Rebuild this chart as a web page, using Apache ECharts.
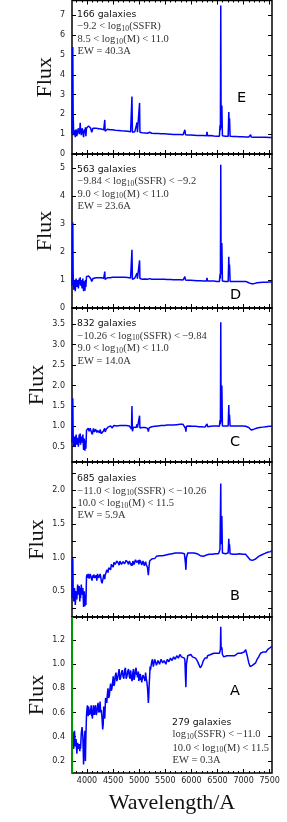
<!DOCTYPE html>
<html><head><meta charset="utf-8">
<script src="https://cdn.jsdelivr.net/npm/echarts@6/dist/echarts.min.js"></script>
<style>html,body{margin:0;padding:0;background:#fff;}#c{width:287px;height:822px;}</style>
</head><body><div id="c"></div>
<script>
// ---- data ----
const wave = [
 3712,3720,3727,3734,3745,3760,3775,3790,3805,3820,
 3835,3850,3862,3869,3876,3890,3905,3920,3934,3948,
 3960,3969,3978,3990,4000,4015,4030,4050,4070,4090,
 4102,4114,4130,4150,4175,4200,4225,4250,4275,4300,
 4320,4333,4340,4347,4365,4390,4415,4440,4465,4490,
 4515,4540,4570,4600,4630,4660,4690,4720,4750,4780,
 4810,4835,4852,4861,4870,4890,4915,4940,4952,4959,
 4966,4985,5000,5007,5014,5035,5060,5085,5110,5135,
 5160,5175,5190,5200,5215,5240,5270,5300,5330,5360,
 5390,5420,5450,5480,5510,5540,5570,5600,5630,5660,
 5690,5720,5750,5780,5810,5840,5866,5876,5886,5895,
 5905,5930,5960,5990,6020,6050,6080,6110,6140,6170,
 6200,6230,6260,6290,6300,6310,6340,6370,6400,6430,
 6460,6490,6520,6538,6548,6556,6563,6570,6584,6595,
 6620,6650,6680,6705,6717,6724,6731,6742,6770,6800,
 6830,6860,6890,6920,6950,6980,7010,7040,7070,7100,
 7126,7136,7146,7170,7200,7230,7260,7290,7310,7325,
 7340,7370,7400,7430,7460,7490,7520,7545
];
const fluxE = [
 1.0,2.5,5.4,2.0,0.95,1.2,0.85,1.25,0.9,1.15,
 1.3,1.0,1.2,1.58,1.2,0.95,1.3,1.1,0.85,1.25,
 1.05,1.35,0.9,1.3,1.38,1.4,1.42,1.38,1.3,1.1,
 1.05,1.3,1.33,1.32,1.3,1.3,1.28,1.27,1.26,1.2,
 1.22,1.15,1.72,1.15,1.24,1.25,1.24,1.23,1.22,1.22,
 1.21,1.2,1.19,1.19,1.18,1.17,1.17,1.16,1.15,1.15,
 1.14,1.12,1.1,2.9,1.1,1.08,1.12,1.1,1.1,1.6,
 1.1,1.09,1.1,2.58,1.1,1.08,1.07,1.07,1.06,1.06,
 1.05,1.02,1.05,1.1,1.05,1.05,1.04,1.04,1.03,1.03,
 1.03,1.02,1.02,1.02,1.01,1.01,1.0,1.0,1.0,0.99,
 0.99,0.99,0.98,0.98,0.98,0.97,0.97,1.22,0.97,0.94,
 0.97,0.96,0.96,0.96,0.95,0.95,0.95,0.94,0.94,0.94,
 0.93,0.93,0.93,0.92,1.12,0.92,0.92,0.93,0.92,0.91,
 0.91,0.9,0.9,0.9,1.45,1.2,7.5,1.3,2.45,0.92,
 0.9,0.9,0.89,0.89,2.12,1.4,1.8,0.89,0.88,0.88,
 0.88,0.88,0.87,0.87,0.87,0.87,0.86,0.86,0.86,0.86,
 0.86,0.97,0.86,0.85,0.85,0.85,0.85,0.85,0.85,0.91,
 0.85,0.84,0.84,0.84,0.84,0.83,0.83,0.83
];
const fluxD = [
 0.8,1.6,3.05,1.2,0.65,1.0,0.6,1.05,0.75,1.0,
 0.7,1.05,0.85,1.1,0.8,1.0,0.7,1.05,0.6,0.95,
 0.62,1.0,0.75,1.12,1.15,1.17,1.14,1.12,1.05,0.95,
 0.9,1.05,1.08,1.07,1.08,1.07,1.08,1.07,1.08,1.05,
 1.06,1.02,1.3,1.02,1.07,1.08,1.09,1.08,1.09,1.1,
 1.09,1.1,1.1,1.1,1.11,1.1,1.1,1.1,1.09,1.09,
 1.08,1.07,1.02,2.08,1.02,1.06,1.07,1.06,1.06,1.25,
 1.05,1.06,1.06,1.7,1.05,1.04,1.03,1.05,1.04,1.04,
 1.03,1.0,1.03,1.05,1.02,1.03,1.03,1.03,1.03,1.03,
 1.03,1.03,1.03,1.03,1.02,1.02,1.02,1.02,1.02,1.01,
 1.01,1.01,1.01,1.01,1.0,1.0,1.0,1.12,1.0,0.97,
 1.0,0.99,0.99,0.99,0.99,0.98,0.98,0.97,0.97,0.97,
 0.96,0.96,0.96,0.96,1.08,0.96,0.96,0.96,0.96,0.96,
 0.96,0.95,0.95,0.95,1.2,1.05,5.12,1.2,2.32,0.96,
 0.95,0.95,0.95,0.95,1.83,1.3,1.55,0.95,0.95,0.95,
 0.95,0.95,0.95,0.95,0.95,0.95,0.95,0.95,0.94,0.9,
 0.88,0.92,0.87,0.87,0.87,0.88,0.9,0.91,0.91,0.93,
 0.91,0.92,0.92,0.92,0.93,0.93,0.93,0.93
];
const fluxC = [
 0.6,1.0,1.69,0.8,0.5,0.75,0.5,0.8,0.55,0.72,
 0.5,0.8,0.6,0.82,0.55,0.75,0.6,0.8,0.42,0.7,
 0.4,0.65,0.45,0.9,0.93,0.92,0.95,0.9,0.93,0.85,
 0.8,0.9,0.93,0.88,0.94,0.9,0.86,0.92,0.82,0.78,
 0.9,0.88,0.95,0.86,0.92,0.95,0.97,0.98,1.0,0.99,
 1.02,0.99,1.01,1.0,1.02,1.0,1.02,1.01,1.02,1.0,
 1.01,1.0,0.93,1.5,0.88,0.98,1.0,0.97,1.0,1.05,
 0.97,0.99,0.96,1.26,0.96,0.98,0.97,0.99,0.97,0.98,
 0.95,0.87,0.96,0.98,0.96,0.99,0.97,1.0,0.98,1.01,
 1.0,1.02,1.01,1.02,1.02,1.03,1.03,1.03,1.04,1.03,
 1.04,1.04,1.04,1.05,1.05,1.05,1.06,1.07,0.95,0.87,
 1.0,1.02,1.01,1.01,1.0,1.01,1.0,0.99,0.99,0.98,
 0.99,0.98,0.98,0.99,1.06,0.99,1.0,1.0,1.0,1.01,
 1.01,1.01,1.01,1.0,1.15,1.05,3.55,1.1,2.0,1.01,
 1.01,1.01,1.01,1.01,1.52,1.15,1.28,1.01,1.01,1.01,
 1.01,1.01,1.01,1.01,1.01,1.01,1.01,1.0,1.0,0.97,
 0.93,0.92,0.91,0.92,0.93,0.95,0.96,0.97,0.97,0.98,
 0.98,0.98,0.99,0.99,0.99,1.0,1.0,1.0
];
const fluxB = [
 0.4,0.7,0.99,0.55,0.35,0.55,0.3,0.5,0.38,0.6,
 0.45,0.58,0.35,0.55,0.4,0.6,0.45,0.55,0.27,0.5,
 0.28,0.45,0.3,0.72,0.75,0.72,0.76,0.7,0.74,0.68,
 0.64,0.72,0.75,0.7,0.74,0.76,0.7,0.76,0.65,0.6,
 0.75,0.72,0.68,0.74,0.78,0.8,0.85,0.84,0.9,0.88,
 0.93,0.9,0.95,0.92,0.95,0.9,0.94,0.91,0.96,0.93,
 0.95,0.93,0.88,0.92,0.88,0.95,0.92,0.96,0.93,0.95,
 0.92,0.96,0.93,0.97,0.92,0.95,0.9,0.96,0.91,0.9,
 0.85,0.74,0.88,0.95,0.93,0.98,1.0,0.99,1.02,1.0,
 1.03,1.01,1.03,1.02,1.04,1.03,1.05,1.04,1.06,1.05,
 1.07,1.06,1.07,1.08,1.07,1.08,1.06,1.04,0.92,0.82,
 1.0,1.07,1.08,1.07,1.09,1.07,1.08,1.06,1.05,1.03,
 1.04,1.02,1.03,1.04,1.05,1.04,1.05,1.06,1.05,1.06,
 1.06,1.07,1.06,1.07,1.12,1.1,2.1,1.2,1.62,1.07,
 1.06,1.06,1.06,1.07,1.28,1.15,1.2,1.06,1.06,1.05,
 1.06,1.05,1.06,1.06,1.05,1.05,1.04,1.05,1.02,1.0,
 0.97,0.97,0.97,0.96,0.97,0.98,1.0,1.02,1.02,1.04,
 1.04,1.06,1.06,1.07,1.08,1.09,1.09,1.11
];
const fluxA = [
 0.28,0.42,0.44,0.35,0.3,0.45,0.32,0.38,0.26,0.35,
 0.3,0.34,0.28,0.33,0.3,0.43,0.48,0.4,0.17,0.35,
 0.45,0.2,0.4,0.58,0.63,0.6,0.65,0.58,0.62,0.57,
 0.55,0.62,0.6,0.64,0.58,0.65,0.6,0.69,0.62,0.46,
 0.65,0.6,0.55,0.63,0.7,0.75,0.72,0.8,0.78,0.85,
 0.82,0.9,0.86,0.92,0.87,0.93,0.9,0.95,0.88,0.94,
 0.9,0.95,0.88,0.86,0.88,0.96,0.9,0.97,0.91,0.93,
 0.89,0.94,0.88,0.92,0.87,0.93,0.88,0.92,0.86,0.88,
 0.8,0.68,0.82,0.9,0.95,1.02,0.98,1.04,0.99,1.03,
 1.0,1.04,1.01,1.03,1.0,1.04,1.02,1.05,1.03,1.06,
 1.04,1.07,1.05,1.08,1.06,1.07,1.05,1.03,0.9,0.81,
 1.0,1.07,1.06,1.08,1.06,1.07,1.05,1.03,1.0,0.97,
 0.99,1.03,1.05,1.06,1.05,1.07,1.06,1.08,1.07,1.09,
 1.08,1.09,1.08,1.09,1.1,1.12,1.31,1.12,1.14,1.08,
 1.06,1.05,1.07,1.06,1.08,1.07,1.08,1.06,1.07,1.08,
 1.07,1.08,1.09,1.08,1.09,1.08,1.1,1.12,1.07,1.01,
 0.98,0.97,0.98,0.99,0.98,1.01,1.04,1.06,1.07,1.09,
 1.08,1.1,1.11,1.1,1.12,1.13,1.14,1.15
];
// extra noisy samples read between the main grid points ([wavelength, flux])
const detailA = [[4008,0.66],[4022,0.57],[4040,0.64],[4060,0.6],[4080,0.66],[4096,0.6],[4108,0.58],[4122,0.66],[4140,0.58],[4162,0.66],[4188,0.6],[4212,0.68],[4238,0.62],[4262,0.6],[4288,0.55],[4310,0.5],[4355,0.72],[4378,0.68],[4402,0.8],[4428,0.74],[4452,0.84],[4478,0.8],[4502,0.9],[4528,0.84],[4555,0.93],[4585,0.88],[4615,0.96],[4645,0.89],[4675,0.95],[4705,0.88],[4735,0.97],[4765,0.9],[4795,0.96],[4822,0.88],[4878,0.93],[4902,0.87],[4928,0.95],[4975,0.92],[4992,0.86],[5022,0.92],[5048,0.85],[5072,0.91],[5098,0.88],[5122,0.93],[5148,0.85],[5168,0.74],[5182,0.72],[5208,0.98],[5228,0.96],[5255,1.04],[5285,0.99],[5315,1.05],[5345,1.0]];
const detailB = [[4008,0.7],[4022,0.76],[4040,0.69],[4060,0.76],[4080,0.7],[4096,0.66],[4108,0.74],[4122,0.7],[4140,0.77],[4162,0.71],[4188,0.66],[4212,0.75],[4238,0.68],[4262,0.72],[4288,0.62],[4310,0.7],[4355,0.76],[4378,0.82],[4402,0.78],[4428,0.86],[4452,0.82],[4478,0.92],[4502,0.86],[4528,0.95],[4555,0.88],[4585,0.96],[4615,0.89],[4645,0.97],[4675,0.9],[4705,0.96],[4735,0.9],[4765,0.97],[4795,0.9],[4822,0.97],[4878,0.95],[4902,0.9],[4928,0.97],[4975,0.95],[4992,0.9],[5022,0.96],[5048,0.89],[5072,0.95],[5098,0.88],[5122,0.94],[5148,0.88]];
const detailC = [[4008,0.88],[4022,0.95],[4040,0.88],[4060,0.95],[4080,0.87],[4122,0.95],[4140,0.86],[4162,0.93],[4188,0.85],[4212,0.93],[4238,0.84],[4262,0.9],[4288,0.8],[4310,0.88],[4378,0.92],[4402,0.98],[4428,0.94],[4452,1.01],[4478,0.96]];
const detailD = [];
const detailE = [];
const xMajorTicks = [4000,4500,5000,5500,6000,6500,7000,7500];
const xMinorTicks = [3800,3900,4100,4200,4300,4400,4600,4700,4800,4900,5100,5200,5300,5400,5600,5700,5800,5900,6100,6200,6300,6400,6600,6700,6800,6900,7100,7200,7300,7400];
const yLabelsE = [0,1,2,3,4,5,6,7];
const yLabelsD = [0,1,2,3,4,5];
const yLabelsC = [0.5,1.0,1.5,2.0,2.5,3.0,3.5];
const yLabelsB = [0.5,1.0,1.5,2.0];
const yTicksB = [0.25,0.5,0.75,1.0,1.25,1.5,1.75,2.0,2.25];
const yLabelsA = [0.2,0.4,0.6,0.8,1.0,1.2];
const panelLetters = ['E','D','C','B','A'];
const galaxyCounts = ['166 galaxies','563 galaxies','832 galaxies','685 galaxies','279 galaxies'];
const ssfrRanges = ['−9.2 < log_10(SSFR)','−9.84 < log_10(SSFR) < −9.2','−10.26 < log_10(SSFR) < −9.84','−11.0 < log_10(SSFR) < −10.26','log_10(SSFR) < −11.0'];
const massRanges = ['8.5 < log_10(M) < 11.0','9.0 < log_10(M) < 11.0','9.0 < log_10(M) < 11.0','10.0 < log_10(M) < 11.5','10.0 < log_10(M) < 11.5'];
const ewValues = ['EW = 40.3A','EW = 23.6A','EW = 14.0A','EW = 5.9A','EW = 0.3A'];
const greenLineX = [3714];

// ---- layout ----
const XMIN = 3712, XMAX = 7545;
const fluxes = [fluxE, fluxD, fluxC, fluxB, fluxA];
const details = [detailE, detailD, detailC, detailB, detailA];
const yMins = [0, 0, 0.125, 0.12, 0.1];
const yMaxs = [7.75, 5.5, 3.9, 2.42, 1.39];
const yLabelSets = [yLabelsE, yLabelsD, yLabelsC, yLabelsB, yLabelsA];
const yTickSets = [yLabelsE, yLabelsD, yLabelsC, yTicksB, yLabelsA];
const yDecimals = [0, 0, 1, 1, 1];
const tops = [0.5, 154, 308, 462, 617];
const heights = [153.5, 154, 154, 155, 156];
const nameGaps = [16, 16, 24, 24, 24];
const annoX = [77, 77, 77, 77, 172];
const annoY = [[14.5,26.5,39,51.5],[169.2,181.2,193.8,205.8],[323.5,335.8,348.5,360.8],[478.5,490.8,503,515.3],[723,734.5,747.8,760]];
const letterPos = [[237,98],[230,295.3],[230,442],[230,596.7],[230,691.7]];

const tickFont = {fontFamily:'DejaVu Sans', fontSize:8, color:'#222'};
const MATH_FONT = 'Liberation Serif', MATH_SIZE = 10.5, SUB_SIZE = 7.5;
const grids = [], xAxes = [], yAxes = [], series = [], graphics = [];

const mctx = document.createElement('canvas').getContext('2d');
function textWidth(t, size, fam) { mctx.font = size + 'px "' + fam + '"'; return mctx.measureText(t).width; }

function addMath(t, x0, yc) {
  const parts = t.split('_10');
  let x = x0;
  parts.forEach((p, k) => {
    if (p) {
      graphics.push({type:'text', x:x, y:yc, z:10, style:{text:p, fontFamily:MATH_FONT, fontSize:MATH_SIZE, fill:'#333', verticalAlign:'middle', align:'left'}});
      x += textWidth(p, MATH_SIZE, MATH_FONT);
    }
    if (k < parts.length - 1) {
      graphics.push({type:'text', x:x + 0.3, y:yc + 2.6, z:10, style:{text:'10', fontFamily:MATH_FONT, fontSize:SUB_SIZE, fill:'#333', verticalAlign:'middle', align:'left'}});
      x += textWidth('10', SUB_SIZE, MATH_FONT) + 0.6;
    }
  });
}

function buildData(flux, detail) {
  const pts = wave.map((w, j) => [w, flux[j]]).concat(detail);
  pts.sort((a, b) => a[0] - b[0]);
  return pts;
}

for (let i = 0; i < 5; i++) {
  grids.push({left:72, width:200, top:tops[i], height:heights[i], show:true, borderColor:'#000', borderWidth:1.5, backgroundColor:'transparent'});
  const xb = {type:'value', gridIndex:i, min:XMIN, max:XMAX, splitLine:{show:false}, axisLine:{show:false, onZero:false}};
  ['bottom','top'].forEach(pos => {
    xAxes.push(Object.assign({}, xb, {position:pos,
      axisTick:{show:true, inside:true, length:4, customValues:xMajorTicks, lineStyle:{color:'#000', width:1}},
      axisLabel:{show: (i === 4 && pos === 'bottom'), customValues:xMajorTicks, margin:4, formatter: v => String(v), ...tickFont},
      name: (i === 4 && pos === 'bottom') ? 'Wavelength/A' : '',
      nameLocation:'middle', nameGap:19,
      nameTextStyle:{fontFamily:'Liberation Serif', fontSize:22, color:'#111'}
    }));
    xAxes.push(Object.assign({}, xb, {position:pos,
      axisTick:{show:true, inside:true, length:2, customValues:xMinorTicks, lineStyle:{color:'#000', width:1}},
      axisLabel:{show:false}
    }));
  });
  const yb = {type:'value', gridIndex:i, min:yMins[i], max:yMaxs[i], splitLine:{show:false}, axisLine:{show:false, onZero:false}};
  const dec = yDecimals[i];
  yAxes.push(Object.assign({}, yb, {position:'left',
    axisTick:{show:true, inside:true, length:4, customValues:yTickSets[i], lineStyle:{color:'#000', width:1}},
    axisLabel:{show:true, customValues:yLabelSets[i], margin:7, formatter: v => Number(v).toFixed(dec), ...tickFont},
    name:'Flux', nameLocation:'middle', nameRotate:90, nameGap:nameGaps[i], nameMoveOverlap:false,
    nameTextStyle:{fontFamily:'Liberation Serif', fontSize:22, color:'#111'}
  }));
  yAxes.push(Object.assign({}, yb, {position:'right',
    axisTick:{show:true, inside:true, length:4, customValues:yTickSets[i], lineStyle:{color:'#000', width:1}},
    axisLabel:{show:false}
  }));
  const s = {
    type:'line', xAxisIndex:4*i, yAxisIndex:2*i,
    data: buildData(fluxes[i], details[i]),
    showSymbol:false, symbol:'none', clip:true, animation:false,
    lineStyle:{color:'#0000ff', width:1.5}, z:3
  };
  if (i === 4) {
    s.markLine = {silent:true, symbol:['none','none'], label:{show:false},
      lineStyle:{color:'#009900', width:2, type:'solid'},
      data: greenLineX.map(v => ({xAxis:v}))};
  }
  series.push(s);

  const ay = annoY[i];
  graphics.push({type:'text', x:annoX[i], y:ay[0], z:10, style:{text:galaxyCounts[i], fontFamily:'DejaVu Sans', fontSize:9.3, fill:'#111', verticalAlign:'middle', align:'left'}});
  [ssfrRanges[i], massRanges[i], ewValues[i]].forEach((t, k) => addMath(t, annoX[i] + 0.5, ay[k+1]));
  graphics.push({type:'text', x:letterPos[i][0], y:letterPos[i][1], z:10, style:{text:panelLetters[i], fontFamily:'DejaVu Sans', fontSize:14.5, fill:'#000', verticalAlign:'middle', align:'left'}});
}

const chart = echarts.init(document.getElementById('c'), null, {renderer:'canvas'});
chart.setOption({
  animation:false,
  backgroundColor:'#fff',
  grid:grids, xAxis:xAxes, yAxis:yAxes, series:series, graphic:graphics
});
</script></body></html>
